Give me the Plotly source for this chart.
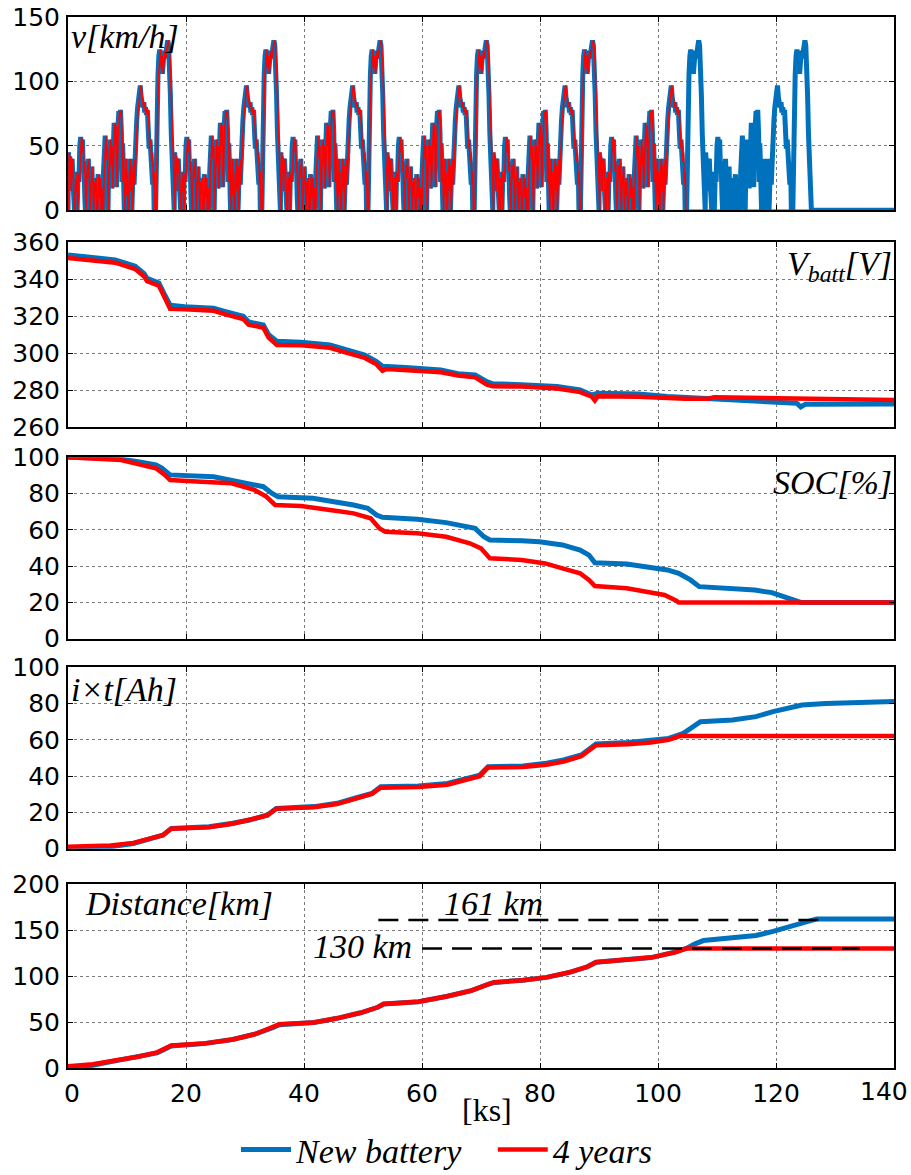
import plotly.graph_objects as go

# ---------------- data ----------------
# one repetition of the driving cycle: time inside cycle [ks], speed [km/h]
cycle_len = 18.0
cycle_t = [0.00, 0.08, 0.20, 0.30, 0.42, 0.55, 0.70, 0.85, 0.95, 1.10, 1.20, 1.32, 1.45, 1.55, 1.70,
           1.85, 2.00, 2.15, 2.30, 2.45, 2.60, 2.70, 2.85, 2.95, 3.05, 3.18, 3.30, 3.45, 3.55, 3.65,
           3.78, 3.92, 4.05, 4.15, 4.25, 4.38, 4.50, 4.62, 4.75, 4.90, 5.00, 5.12, 5.25, 5.38, 5.48,
           5.62, 5.75, 5.90, 6.02, 6.15, 6.30, 6.45, 6.58, 6.68, 6.78, 6.88, 7.00, 7.12, 7.22, 7.35,
           7.45, 7.58, 7.70, 7.82, 7.92, 8.02, 8.12, 8.22, 8.35, 8.48, 8.62, 8.75, 8.90, 9.05, 9.15,
           9.25, 9.35, 9.45, 9.55, 9.65, 9.75, 9.85, 9.95, 10.05, 10.20, 10.32, 10.45, 10.58, 10.70,
           10.82, 10.95, 11.08, 11.20, 11.35, 11.50, 11.65, 11.80, 11.95, 12.10, 12.25, 12.40, 12.55,
           12.70, 12.85, 13.00, 13.15, 13.30, 13.45, 13.60, 13.75, 13.90, 14.05, 14.20, 14.35, 14.50,
           14.60, 14.85, 14.95, 15.10, 15.25, 15.40, 15.55, 15.70, 15.85, 16.00, 16.15, 16.30, 16.45,
           16.60, 16.75, 16.90, 17.05, 17.20, 17.35, 17.50, 17.65, 17.80, 17.92, 18.00]
cycle_v = [0, 45, 30, 42, 15, 38, 40, 22, 0, 0, 25, 15, 30, 0, 28,
           22, 50, 57, 45, 55, 30, 38, 10, 0, 20, 35, 25, 40, 15, 0,
           18, 28, 34, 12, 0, 22, 12, 25, 0, 0, 20, 28, 10, 25, 0,
           18, 0, 0, 30, 50, 58, 40, 50, 15, 0, 30, 45, 55, 35, 50,
           17, 40, 60, 68, 50, 66, 30, 18, 55, 70, 77, 72, 78, 60, 22,
           52, 38, 12, 0, 25, 40, 12, 30, 0, 0, 30, 40, 15, 35,
           0, 25, 40, 20, 45, 55, 70, 80, 90, 94, 97, 88, 85,
           80, 84, 76, 80, 74, 78, 65, 48, 55, 38, 45, 20, 30,
           0, 0, 40, 80, 105, 120, 125, 110, 120, 106, 115, 124, 118,
           126, 130, 132, 128, 115, 90, 60, 45, 30, 15, 0]
cycles_new = 7          # complete cycles driven with the new battery
stop_old_ks = 104.6     # 4-year battery stops here
tail_old_ks = 138.0
lag_old_ks = 0.12

# battery voltage [V]
vb_new_t = [0, 4, 8, 11.4, 12.9, 13.4, 15.4, 16.4, 17.3, 19.8, 24.7, 26.7, 29.7, 30.6, 33.1, 34,
            35.4, 39.5, 44.4, 46.4, 48.4, 50.3, 52.3, 53.3, 57.2, 63.2, 66.1, 69, 71, 72, 76.9, 82.9,
            86.8, 88.8, 89.8, 96.7, 101.6, 106.5, 116.4, 120.3, 123.5, 124.2, 125, 140]
vb_new_v = [353.2, 352, 350.5, 347, 343, 340.5, 338, 331.5, 326, 325.2, 324.3, 322.5, 320, 317, 315.3, 310,
            306.5, 306, 304.5, 302.7, 301, 299, 295.5, 293, 292.3, 291, 289, 288.3, 284.7, 283.5, 283, 282,
            280.2, 277.5, 278.4, 278, 276.6, 275.7, 274, 273, 273, 271, 272.5, 272.6]
vb_old_t = [0, 4, 8, 11.4, 12.9, 13.4, 15.4, 16.4, 17.3, 19.8, 24.7, 26.7, 29.7, 30.6, 33.1, 34,
            35.4, 39.5, 44.4, 46.4, 48.4, 50.3, 52.3, 53.3, 54, 57.2, 63.2, 66.1, 69, 71, 72, 76.9,
            82.9, 86.8, 88.8, 89.3, 89.8, 96.7, 101.6, 104.6, 108.5, 109.5, 140]
vb_old_v = [351.5, 350.5, 349, 345.5, 341.5, 339, 336.5, 330, 324, 323.8, 323, 321, 318.5, 315.5, 313.8, 308.5,
            304.5, 304.3, 303, 301, 299.5, 297.5, 294, 290.5, 291.5, 291, 289.8, 288, 287, 283, 282.2, 282,
            281, 279, 276.5, 274.5, 276.8, 276.5, 275.8, 275.5, 275.5, 276.3, 274.8]

# state of charge [%]
soc_new_t = [0, 8, 11.9, 14.9, 15.9, 17.3, 24.7, 27.7, 30.6, 33.1, 34.6, 35.6, 41.5, 45.4, 48.4, 50.8,
             52.3, 53.3, 59.2, 64.1, 67.1, 69, 70.5, 71.5, 76.9, 79.9, 83.8, 86.8, 88.3, 89.3, 94.7,
             98.6, 101.6, 103.5, 105.5, 107, 112.4, 116.4, 119.3, 121.3, 123.3, 124.2, 140]
soc_new_v = [100, 99.4, 97.6, 95.8, 94, 90.3, 89.3, 87.5, 85.7, 83.8, 80.1, 78.3, 77.4, 75.6, 73.7, 71.9,
             68.2, 66.9, 65.8, 64, 62.1, 60.8, 56.2, 54.4, 54, 53.5, 51.7, 48.9, 46.1, 41.9, 41.2,
             39.7, 37.9, 36, 32.4, 28.7, 27.8, 26.8, 25.4, 23.2, 21.7, 20, 20]
soc_old_t = [0, 6, 9, 12.4, 14.9, 16.4, 17.3, 21.8, 27.7, 31.6, 33.6, 35.1, 39.5, 44.4, 48.4, 51.3,
             52.8, 53.8, 59.2, 64.1, 68.1, 70, 71.5, 76.9, 80.9, 83.8, 86.8, 88.3, 89.3, 94.7, 98.6,
             101.1, 103.1, 103.5, 140]
soc_old_v = [100, 99.4, 98.5, 95.8, 94, 90.3, 87.5, 86.6, 85.7, 82, 78.3, 73.7, 73.2, 71, 69.1, 66.4,
             60.8, 59, 58.1, 56.2, 52.6, 49.8, 44.3, 43.4, 41.5, 38.8, 36, 32.4, 29, 27.8, 25.9,
             24.1, 21, 20, 20]

# charge drawn i x t [Ah]
ah_new_t = [0, 7.2, 11.1, 14.1, 16.1, 17.5, 23.9, 27.9, 30.8, 33.8, 35.3, 41.7, 45.6, 48.6, 51.5, 53,
            59.4, 64.3, 67.3, 69.8, 71.2, 77.1, 81.1, 84, 87, 88.5, 89.5, 94.9, 98.8, 101.8, 104.3,
            105.7, 107.2, 112.6, 116.6, 119.5, 122.5, 124.4, 128.4, 140]
ah_new_v = [0, 1.1, 2.9, 5.7, 7.5, 11.2, 12.1, 14, 15.8, 18.6, 22.2, 23.2, 25, 27.8, 30.5, 34.2,
            34.6, 36, 38.8, 40.6, 45.2, 45.6, 47.1, 48.9, 51.7, 55.3, 57.7, 58.5, 59.6, 60.8, 63.6,
            66.4, 70, 71, 72.8, 75.6, 77.9, 79.2, 80.1, 81.1]
ah_old_t = [0, 7.2, 11.1, 14.1, 16.1, 17.5, 23.9, 27.9, 30.8, 33.8, 35.3, 41.7, 45.6, 48.6, 51.5, 53,
            59.4, 64.3, 67.3, 69.8, 71.2, 77.1, 81.1, 84, 87, 88.5, 89.5, 94.9, 98.8, 101.8, 103.7, 140]
ah_old_v = [1.1, 1.8, 3.2, 5.9, 7.5, 11, 11.8, 13.8, 15.8, 18.3, 22, 22.8, 24.6, 27.4, 30.2, 33.6,
            34, 35.3, 38.2, 40, 44.8, 45, 46.3, 48, 51, 54.5, 57, 57.6, 58.6, 60, 62.1, 62.1]

# distance [km]
dist_new_t = [0, 4.2, 8.2, 12.1, 15.1, 17.5, 23, 27.9, 31.8, 34.8, 35.8, 41.7, 45.6, 49.6, 52.5, 53.5,
              59.4, 64.3, 68.3, 71.2, 72.2, 77.1, 81.1, 85, 88, 89.5, 94.9, 98.8, 102.8, 104.8, 106.3,
              107.7, 112.6, 116.6, 119.5, 122, 124.4, 126.9, 140]
dist_new_v = [0, 3, 8, 12, 16.4, 24, 26.5, 31, 37, 44, 47, 49.5, 54, 60, 66, 69.5,
              72, 78, 84, 91, 93, 95.5, 98.5, 104, 110, 115, 118, 120, 126, 130, 135,
              138.5, 141.5, 144, 148.5, 153, 157, 162, 162]
dist_old_t = [0, 4.2, 8.2, 12.1, 15.1, 17.5, 23, 27.9, 31.8, 34.8, 35.8, 41.7, 45.6, 49.6, 52.5, 53.5,
              59.4, 64.3, 68.3, 71.2, 72.2, 77.1, 81.1, 85, 88, 89.5, 94.9, 98.8, 102.8, 104.8, 140]
dist_old_v = [2, 4, 8.5, 12.5, 17, 24.5, 26.5, 31, 37, 44, 47.5, 49.5, 54, 60, 66, 69.5,
              72, 78, 84, 91, 93, 95.5, 98.5, 104, 110, 115, 118, 120, 125.5, 130, 130]
range_new_km = 161
range_old_km = 130

x_ticks = [0, 20, 40, 60, 80, 100, 120, 140]
x_tick_labels = ["0", "20", "40", "60", "80", "100", "120", "140"]
series_names = ["<i>New battery</i>&nbsp;&nbsp;&nbsp;", "<i>4 years</i>"]

# ---------------- build the speed series from the cycle ----------------
spd_new_t, spd_new_v = [], []
for k in range(cycles_new):
    for t, v in zip(cycle_t, cycle_v):
        spd_new_t.append(k * cycle_len + t)
        spd_new_v.append(v)
spd_new_t.append(140)
spd_new_v.append(0)

spd_old_t, spd_old_v = [], []
for k in range(cycles_new):
    for t, v in zip(cycle_t, cycle_v):
        tt = k * cycle_len + t
        if tt > stop_old_ks:
            break
        spd_old_t.append(tt + lag_old_ks)
        spd_old_v.append(v)
spd_old_t += [stop_old_ks + lag_old_ks, tail_old_ks]
spd_old_v += [0, 0]

# ---------------- figure ----------------
BLUE = "#0072BD"
RED = "#FF0000"
W, H = 911, 1175
L, R, T, B = 68, 17, 17, 107
PW, PH = W - L - R, H - T - B


def py(ypix):
    return (H - B - ypix) / PH


def px(xpix):
    return (xpix - L) / PW


domains = [
    [py(210.3), py(17.3)],
    [py(427.3), py(242.3)],
    [py(638.7), py(457.3)],
    [py(848.7), py(667.3)],
    [py(1068), py(884)],
]
y_ranges = [[0, 150], [260, 360], [0, 100], [0, 100], [0, 200]]
y_dticks = [50, 20, 20, 20, 50]

fig = go.Figure()

panels = [
    (spd_new_t, spd_new_v, spd_old_t, spd_old_v, 5, 1.6),
    (vb_new_t, vb_new_v, vb_old_t, vb_old_v, 5, 4.5),
    (soc_new_t, soc_new_v, soc_old_t, soc_old_v, 5, 4.5),
    (ah_new_t, ah_new_v, ah_old_t, ah_old_v, 5, 4.5),
    (dist_new_t, dist_new_v, dist_old_t, dist_old_v, 5, 4.5),
]
for i, (xn, yn, xo, yo, wn, wo) in enumerate(panels):
    ax = "" if i == 0 else str(i + 1)
    last = i == 4
    fig.add_trace(go.Scatter(x=xn, y=yn, mode="lines", line=dict(color=BLUE, width=wn),
                             name=series_names[0], showlegend=last,
                             xaxis="x" + ax, yaxis="y" + ax))
    fig.add_trace(go.Scatter(x=xo, y=yo, mode="lines", line=dict(color=RED, width=wo),
                             name=series_names[1], showlegend=last,
                             xaxis="x" + ax, yaxis="y" + ax))

tick_font = dict(family="'DejaVu Sans', sans-serif", size=25, color="black")
axis_common = dict(showline=True, linecolor="black", linewidth=2, mirror="ticks",
                   ticks="inside", ticklen=5, tickcolor="black", tickwidth=1,
                   showgrid=True, gridcolor="#7a7a7a", griddash="dot", gridwidth=1,
                   zeroline=False, tickfont=tick_font, automargin=False,
                   ticklabeloverflow="allow")

# the last x label sits flush with the picture's right edge (as in the reference),
# so it is written as a right-aligned label instead of a centred tick label
x_tick_text = list(x_tick_labels)
x_tick_text[0] = "&nbsp;" + x_tick_text[0]
last_x_label = x_tick_text[-1]
x_tick_text[-1] = " "

layout = dict(
    width=W, height=H, margin=dict(l=L, r=R, t=T, b=B, autoexpand=False),
    plot_bgcolor="white", paper_bgcolor="white",
    showlegend=True,
    legend=dict(orientation="h", x=px(236), xanchor="left", y=py(1150), yanchor="middle",
                font=dict(family="'Liberation Serif', serif", size=34, color="black"),
                itemwidth=50, bgcolor="rgba(0,0,0,0)", tracegroupgap=0,
                traceorder="normal"),
)
for i in range(5):
    ax = "" if i == 0 else str(i + 1)
    layout["xaxis" + ax] = dict(axis_common, domain=[0, 1], range=[0, 140],
                                tickvals=x_ticks, ticktext=x_tick_text, showticklabels=(i == 4),
                                anchor="y" + ax, ticklabelstandoff=2,
                                **({} if i == 0 else {"matches": "x"}))
    layout["yaxis" + ax] = dict(axis_common, domain=domains[i], range=y_ranges[i],
                                dtick=y_dticks[i], tick0=y_ranges[i][0],
                                anchor="x" + ax, ticklabelstandoff=1)
fig.update_layout(**layout)

serif_it = dict(family="'Liberation Serif', 'Times New Roman', serif", size=34, color="black")
labels = [
    ("<i>v[km/h]</i>", px(69), py(37), "left"),
    ("<i>V<sub>batt</sub>[V]</i>", px(894), py(266), "right"),
    ("<i>SOC[%]</i>", px(894), py(482), "right"),
    ("<i>i×t[Ah]</i>", px(69), py(690), "left"),
    ("<i>Distance[km]</i>", px(83), py(903), "left"),
    ("<i>%d km</i>" % range_new_km, px(493), py(903), "center"),
    ("<i>%d km</i>" % range_old_km, px(362), py(946), "center"),
]
for text, x, y, anchor in labels:
    fig.add_annotation(text=text, x=x, y=y, xref="paper", yref="paper", xanchor=anchor,
                       yanchor="middle", showarrow=False, font=serif_it)
fig.add_annotation(text="[ks]", x=px(487), y=py(1110), xref="paper", yref="paper",
                   showarrow=False, xanchor="center", yanchor="middle",
                   font=dict(family="'Liberation Serif', serif", size=32, color="black"))
fig.add_annotation(text=last_x_label, x=px(909), y=py(1091), xref="paper", yref="paper",
                   showarrow=False, xanchor="right", yanchor="middle", borderpad=0,
                   font=tick_font)

# dashed range markers
fig.add_shape(type="line", xref="x5", yref="y5", x0=52.6, x1=127.5, y0=range_new_km, y1=range_new_km,
              line=dict(color="black", width=2.5, dash="20px,10px"))
fig.add_shape(type="line", xref="x5", yref="y5", x0=60.0, x1=134.2, y0=range_old_km, y1=range_old_km,
              line=dict(color="black", width=2.5, dash="20px,10px"))

fig.write_html("out.html", config={"displayModeBar": False})

# remove the browser's default page margin so the figure sits at the top-left corner
with open("out.html", encoding="utf-8") as f:
    html = f.read()
html = html.replace("<head>", "<head><style>html,body{margin:0;padding:0;overflow:hidden;}</style>", 1)
with open("out.html", "w", encoding="utf-8") as f:
    f.write(html)
